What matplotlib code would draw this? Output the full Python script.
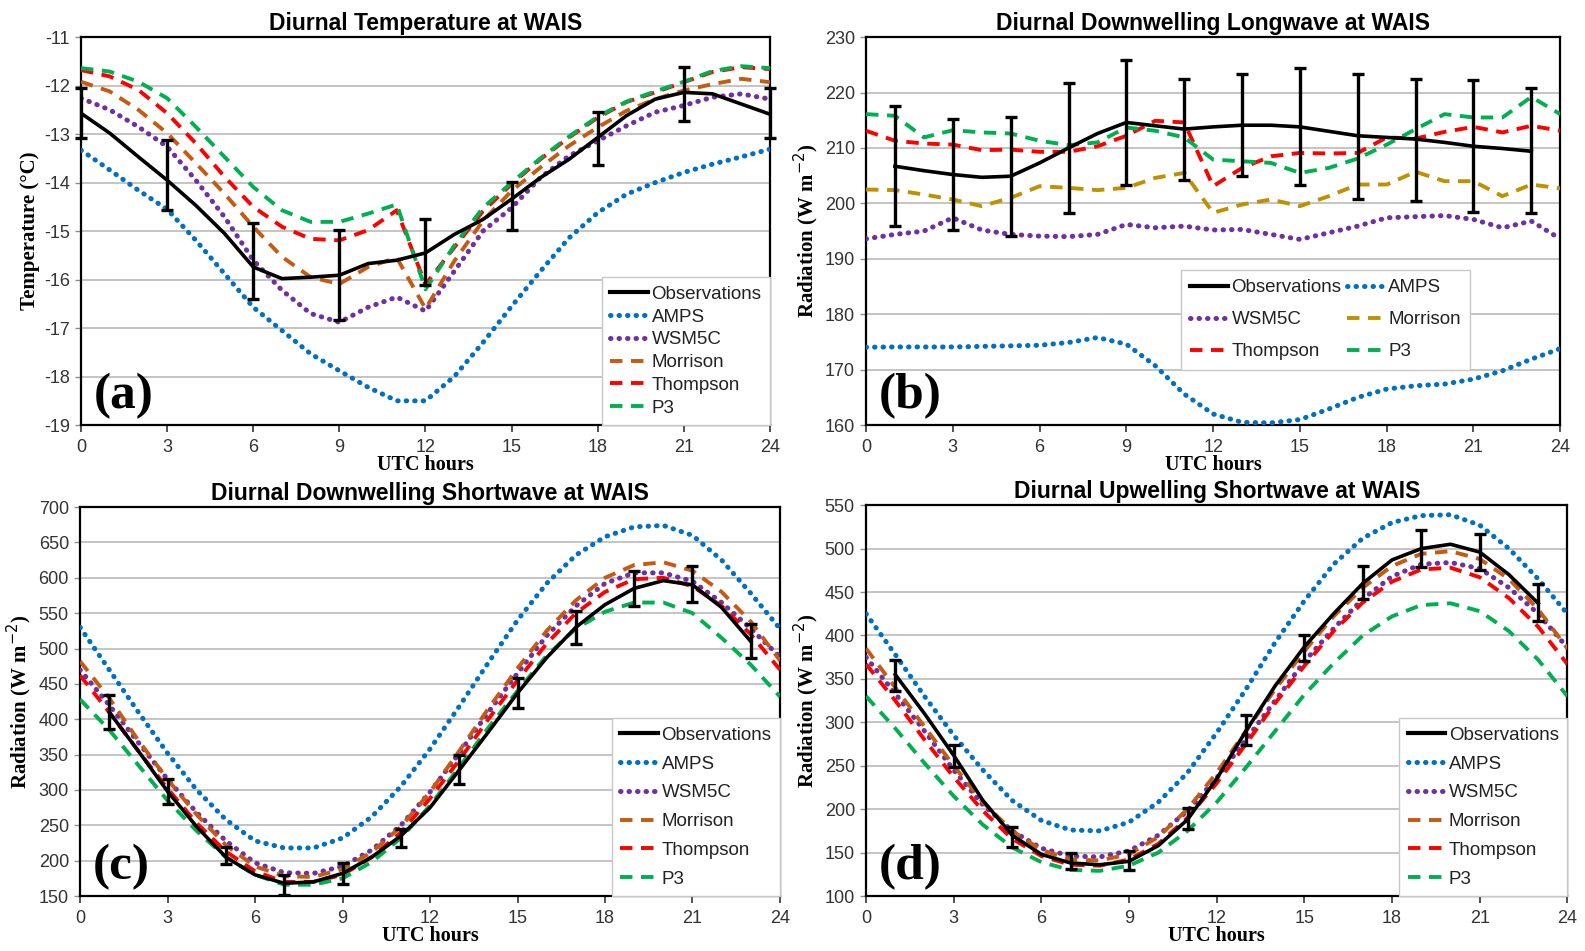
import matplotlib
matplotlib.use("Agg")
import matplotlib.pyplot as plt
from matplotlib.lines import Line2D

plt.rcParams['font.family'] = ['Liberation Sans', 'DejaVu Sans']
plt.rcParams['axes.unicode_minus'] = False

hours = list(range(25))
obs_hours_a = [0, 3, 6, 9, 12, 15, 18, 21, 24]
odd_hours = list(range(1, 24, 2))
obs_curve_hours = list(range(1, 24))

# ---------------- Panel (a) Temperature ----------------
a_obs = [-12.57, -12.98, -13.47, -13.95, -14.47, -15.05, -15.74, -15.98, -15.95, -15.91, -15.67, -15.6,
         -15.45, -15.07, -14.76, -14.34, -13.9, -13.52, -13.07, -12.62, -12.28, -12.14, -12.17, -12.38, -12.59]
a_obs_pts = [-12.57, -13.85, -15.62, -15.91, -15.44, -14.48, -13.09, -12.17, -12.57]
a_obs_err = [0.52, 0.72, 0.78, 0.93, 0.68, 0.5, 0.55, 0.55, 0.52]
a_amps = [-13.33, -13.74, -14.16, -14.55, -15.19, -15.88, -16.57, -17.05, -17.53, -17.88, -18.22, -18.5,
          -18.5, -18.0, -17.3, -16.55, -15.83, -15.14, -14.62, -14.24, -14.0, -13.79, -13.62, -13.47, -13.31]
a_wsm = [-12.26, -12.5, -12.85, -13.26, -13.95, -14.71, -15.6, -16.22, -16.7, -16.88, -16.57, -16.36,
         -16.65, -15.83, -15.0, -14.52, -13.9, -13.45, -13.14, -12.83, -12.55, -12.41, -12.24, -12.17, -12.28]
a_mor = [-11.92, -12.12, -12.5, -12.98, -13.6, -14.23, -14.91, -15.53, -15.95, -16.09, -15.74, -15.55,
         -16.6, -15.62, -14.79, -14.17, -13.69, -13.24, -12.86, -12.52, -12.28, -12.1, -11.97, -11.86, -11.93]
a_tho = [-11.68, -11.81, -12.09, -12.57, -13.19, -13.88, -14.5, -14.91, -15.16, -15.19, -14.98, -14.57,
         -16.1, -15.34, -14.59, -14.03, -13.52, -13.07, -12.66, -12.34, -12.14, -11.93, -11.72, -11.62, -11.66]
a_p3 = [-11.64, -11.71, -11.92, -12.26, -12.85, -13.47, -14.09, -14.57, -14.81, -14.81, -14.64, -14.45,
        -16.2, -15.3, -14.52, -14.0, -13.5, -13.05, -12.64, -12.33, -12.12, -11.92, -11.7, -11.6, -11.64]

# ---------------- Panel (b) Downwelling longwave ----------------
b_obs = [206.7, 205.9, 205.2, 204.7, 204.9, 207.3, 210.0, 212.6, 214.6, 214.0, 213.4, 213.8,
         214.1, 214.1, 213.8, 213.0, 212.2, 211.9, 211.6, 211.0, 210.3, 209.9, 209.4]
b_obs_pts = [206.7, 205.2, 204.9, 210.0, 214.6, 213.4, 214.1, 213.8, 212.2, 211.6, 210.3, 209.4]
b_obs_lo = [195.9, 195.2, 194.2, 198.3, 203.4, 204.3, 204.9, 203.4, 200.7, 200.4, 198.4, 198.2]
b_obs_hi = [217.6, 215.3, 215.6, 221.8, 225.8, 222.5, 223.4, 224.5, 223.4, 222.4, 222.2, 220.9]
b_amps = [174.05, 174.1, 174.1, 174.1, 174.2, 174.3, 174.4, 174.9, 175.8, 174.6, 170.7, 165.6,
          162.0, 160.5, 160.4, 161.0, 162.9, 165.0, 166.5, 167.1, 167.4, 168.3, 169.8, 171.9, 173.8]
b_wsm = [193.6, 194.4, 195.0, 197.4, 195.2, 194.4, 194.1, 194.0, 194.4, 196.2, 195.6, 195.9,
         195.2, 195.3, 194.4, 193.5, 194.7, 195.9, 197.4, 197.6, 197.8, 197.1, 195.6, 196.8, 193.6]
b_mor = [202.5, 202.4, 201.6, 200.7, 199.5, 201.0, 203.1, 202.8, 202.4, 202.8, 204.6, 205.5,
         198.3, 199.8, 200.7, 199.5, 201.3, 203.4, 203.4, 205.7, 204.0, 204.0, 201.3, 203.4, 202.7]
b_tho = [213.1, 211.3, 210.8, 210.6, 209.6, 209.7, 209.3, 209.3, 210.3, 212.2, 214.9, 214.6,
         203.1, 206.4, 208.5, 209.1, 209.0, 209.1, 211.9, 211.7, 212.9, 213.8, 212.8, 214.0, 213.1]
b_p3 = [216.1, 215.8, 211.9, 213.2, 212.8, 212.6, 211.3, 210.5, 211.0, 213.7, 213.1, 211.9,
        207.9, 207.6, 207.3, 205.5, 206.4, 208.1, 210.6, 213.4, 216.1, 215.5, 215.5, 219.2, 216.1]

# ---------------- Panel (c) Downwelling shortwave ----------------
c_obs = [410, 355, 298, 248, 205, 180, 168, 170, 182, 205, 235, 275,
         328, 382, 437, 487, 530, 562, 585, 596, 590, 558, 510]
c_obs_pts = [410, 298, 207, 166, 182, 232, 329, 437, 530, 585, 591, 511]
c_obs_err = [24, 18, 12, 14, 15, 13, 20, 21, 23, 25, 25, 24]
c_amps = [530, 470, 410, 352, 300, 258, 228, 218, 218, 232, 262, 305,
          358, 418, 480, 540, 592, 632, 658, 672, 674, 660, 625, 578, 528]
c_wsm = [470, 420, 367, 315, 268, 228, 197, 183, 182, 192, 215, 250,
         297, 352, 410, 465, 518, 560, 592, 607, 607, 595, 565, 528, 488]
c_mor = [482, 430, 370, 315, 265, 222, 192, 178, 177, 188, 212, 248,
         297, 355, 415, 472, 525, 568, 600, 618, 622, 610, 580, 538, 483]
c_tho = [462, 410, 355, 302, 253, 213, 185, 170, 170, 180, 205, 240,
         288, 342, 400, 455, 507, 550, 580, 598, 600, 588, 560, 520, 470]
c_p3 = [428, 385, 335, 285, 242, 205, 180, 166, 166, 175, 198, 232,
        278, 332, 388, 440, 490, 528, 552, 565, 565, 550, 515, 477, 432]

# ---------------- Panel (d) Upwelling shortwave ----------------
d_obs = [355, 310, 262, 210, 170, 148, 138, 136, 140, 158, 188, 235,
         290, 342, 387, 425, 460, 487, 500, 505, 496, 470, 437]
d_obs_pts = [354, 261, 168, 140, 141, 189, 291, 386, 461, 500, 496, 438]
d_obs_err = [18, 13, 11, 9, 11, 12, 17, 15, 19, 21, 21, 21]
d_amps = [425, 378, 330, 285, 245, 210, 187, 176, 175, 185, 208, 242,
          288, 338, 392, 440, 482, 512, 530, 538, 539, 527, 500, 465, 425]
d_wsm = [375, 333, 290, 245, 205, 175, 155, 146, 145, 152, 170, 198,
         236, 280, 325, 370, 408, 442, 468, 482, 484, 477, 455, 425, 386]
d_mor = [385, 340, 295, 250, 208, 175, 153, 142, 141, 148, 168, 200,
         242, 290, 338, 382, 422, 455, 480, 494, 497, 488, 465, 430, 385]
d_tho = [367, 325, 280, 237, 198, 166, 146, 136, 135, 142, 160, 190,
         230, 275, 322, 365, 405, 438, 462, 476, 478, 467, 443, 410, 367]
d_p3 = [330, 293, 253, 215, 182, 156, 139, 130, 129, 135, 150, 175,
        208, 248, 290, 332, 368, 400, 422, 435, 437, 428, 405, 372, 330]

labels = ['Observations', 'AMPS', 'WSM5C', 'Morrison', 'Thompson', 'P3']
C_AMPS = '#0070C0'
C_WSM = '#7030A0'
C_MOR = '#C55A11'
C_MOR_B = '#BF9000'
C_THO = '#FF0000'
C_P3 = '#00B050'

DOT = (0, (0.1, 1.6))
DASH = (0, (3.2, 2.2))
LW_DOT = 3.6
LW_DASH = 2.8
LEG_FS = 13.5

fig = plt.figure(figsize=(15.85, 9.51), dpi=100)
pos = {
    'a': [0.0511, 0.553, 0.4347, 0.408],
    'b': [0.5464, 0.553, 0.4380, 0.408],
    'c': [0.0505, 0.0578, 0.4416, 0.409],
    'd': [0.5464, 0.0578, 0.4425, 0.411],
}

def style_axes(ax, ylim, yticks, title, ylabel, letter):
    ax.set_xlim(0, 24)
    ax.set_ylim(*ylim)
    ax.set_xticks(range(0, 25, 3))
    ax.set_yticks(yticks)
    ax.yaxis.grid(True, color='#BFBFBF', lw=1.3)
    ax.set_axisbelow(True)
    for s in ax.spines.values():
        s.set_color('black')
        s.set_linewidth(1.6)
    ax.tick_params(axis='x', length=5, width=1.2, labelsize=13, pad=5, colors='#333333')
    ax.tick_params(axis='y', length=4, width=1.0, labelsize=13, pad=4, color='#909090',
                   labelcolor='#333333')
    ax.set_title(title, fontsize=16.5, fontweight='bold', pad=5)
    ax.set_xlabel('UTC hours', fontsize=14.5, fontweight='bold', family='Liberation Serif', labelpad=-1)
    ax.set_ylabel(ylabel, fontsize=15, fontweight='bold', family='Liberation Serif', labelpad=3)
    ax.text(0.018, 0.015, letter, transform=ax.transAxes, fontsize=37, fontweight='bold',
            family='Liberation Serif', ha='left', va='bottom', zorder=12)

def draw_models(ax, x, amps, wsm, mor, tho, p3, mor_color):
    ax.plot(x, amps, color=C_AMPS, lw=LW_DOT, ls=DOT, dash_capstyle='round', zorder=3)
    ax.plot(x, wsm, color=C_WSM, lw=LW_DOT, ls=DOT, dash_capstyle='round', zorder=3)
    ax.plot(x, mor, color=mor_color, lw=LW_DASH, ls=DASH, zorder=3)
    ax.plot(x, tho, color=C_THO, lw=LW_DASH, ls=DASH, zorder=3)
    ax.plot(x, p3, color=C_P3, lw=LW_DASH, ls=DASH, zorder=3)

def handles(mor_color):
    return [
        Line2D([], [], color='black', lw=3),
        Line2D([], [], color=C_AMPS, lw=LW_DOT, ls=DOT, dash_capstyle='round'),
        Line2D([], [], color=C_WSM, lw=LW_DOT, ls=DOT, dash_capstyle='round'),
        Line2D([], [], color=mor_color, lw=LW_DASH, ls=DASH),
        Line2D([], [], color=C_THO, lw=LW_DASH, ls=DASH),
        Line2D([], [], color=C_P3, lw=LW_DASH, ls=DASH),
    ]

def legend_single(ax, mor_color, spacing):
    leg = ax.legend(handles(mor_color), labels, loc='lower right', bbox_to_anchor=(1.0, 0.0),
                    borderaxespad=0.0, fancybox=False, framealpha=1.0, edgecolor='#C8C8C8',
                    fontsize=LEG_FS, handlelength=2.0, handletextpad=0.2, labelspacing=spacing,
                    borderpad=0.45)
    leg.get_frame().set_linewidth(1.0)
    leg.set_zorder(10)
    for t in leg.get_texts():
        t.set_color('#222222')
    return leg

# (a)
ax = fig.add_axes(pos['a'])
draw_models(ax, hours, a_amps, a_wsm, a_mor, a_tho, a_p3, C_MOR)
ax.plot(hours, a_obs, color='black', lw=2.6, zorder=4)
ax.errorbar(obs_hours_a, a_obs_pts, yerr=a_obs_err, fmt='none', ecolor='black', elinewidth=2.4,
            capsize=4, capthick=2.4, zorder=5, clip_on=False)
style_axes(ax, (-19, -11), range(-19, -10), 'Diurnal Temperature at WAIS', 'Temperature (°C)', '(a)')
legend_single(ax, C_MOR, 0.3)

# (b)
ax = fig.add_axes(pos['b'])
draw_models(ax, hours, b_amps, b_wsm, b_mor, b_tho, b_p3, C_MOR_B)
ax.plot(obs_curve_hours, b_obs, color='black', lw=2.6, zorder=4)
yerr_b = [[p - lo for p, lo in zip(b_obs_pts, b_obs_lo)], [hi - p for p, hi in zip(b_obs_pts, b_obs_hi)]]
ax.errorbar(odd_hours, b_obs_pts, yerr=yerr_b, fmt='none', ecolor='black', elinewidth=2.4,
            capsize=4, capthick=2.4, zorder=5)
style_axes(ax, (160, 230), range(160, 231, 10), 'Diurnal Downwelling Longwave at WAIS',
           'Radiation (W m$^{-2}$)', '(b)')
h = handles(C_MOR_B)
order = [0, 2, 4, 1, 3, 5]
leg = ax.legend([h[i] for i in order], [labels[i] for i in order], ncol=2, loc='upper left',
                bbox_to_anchor=(0.440, 0.425), fancybox=False, framealpha=1.0, edgecolor='#C8C8C8',
                fontsize=LEG_FS, handlelength=2.0, handletextpad=0.2, labelspacing=0.8,
                columnspacing=0.3, borderpad=0.5)
leg.get_frame().set_linewidth(1.0)
for t in leg.get_texts():
    t.set_color('#222222')

# (c)
ax = fig.add_axes(pos['c'])
draw_models(ax, hours, c_amps, c_wsm, c_mor, c_tho, c_p3, C_MOR)
ax.plot(obs_curve_hours, c_obs, color='black', lw=2.6, zorder=4)
ax.errorbar(odd_hours, c_obs_pts, yerr=c_obs_err, fmt='none', ecolor='black', elinewidth=2.4,
            capsize=4, capthick=2.4, zorder=5)
style_axes(ax, (150, 700), range(150, 701, 50), 'Diurnal Downwelling Shortwave at WAIS',
           'Radiation (W m$^{-2}$)', '(c)')
legend_single(ax, C_MOR, 0.62)

# (d)
ax = fig.add_axes(pos['d'])
draw_models(ax, hours, d_amps, d_wsm, d_mor, d_tho, d_p3, C_MOR)
ax.plot(obs_curve_hours, d_obs, color='black', lw=2.6, zorder=4)
ax.errorbar(odd_hours, d_obs_pts, yerr=d_obs_err, fmt='none', ecolor='black', elinewidth=2.4,
            capsize=4, capthick=2.4, zorder=5)
style_axes(ax, (100, 550), range(100, 551, 50), 'Diurnal Upwelling Shortwave at WAIS',
           'Radiation (W m$^{-2}$)', '(d)')
legend_single(ax, C_MOR, 0.62)

fig.savefig('out.png', dpi=100)
